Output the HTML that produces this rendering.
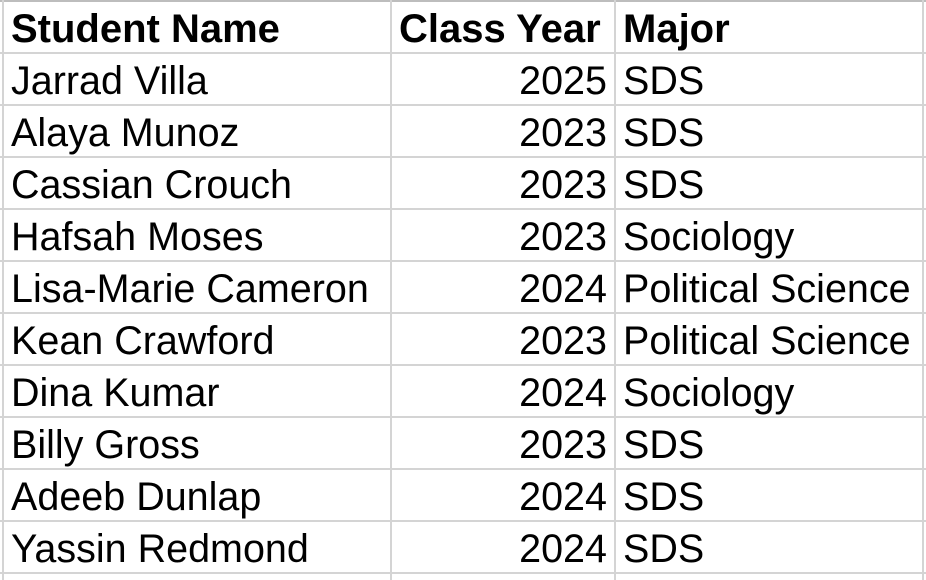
<!DOCTYPE html>
<html><head><meta charset="utf-8"><style>
html,body{margin:0;padding:0;background:#fff;width:926px;height:580px;overflow:hidden;font-family:"Liberation Sans",Arial,sans-serif;}
#grid{position:absolute;left:0;top:0;width:926px;height:580px;}
.h{position:absolute;left:0;width:926px;height:2px;background:#d4d4d4;}
.v{position:absolute;top:0;height:580px;width:2px;background:#d4d4d4;}
.c{position:absolute;height:52px;line-height:52px;font-size:39.5px;color:#000;white-space:nowrap;padding-top:2px;box-sizing:border-box;}
.b{font-weight:bold;font-size:40px;}
.n{left:11px;}
.y{left:392px;width:215px;text-align:right;}
.yh{left:399px;}
.m{left:623px;}
</style></head><body>
<div id="grid"></div>
<script>
const names=["Jarrad Villa","Alaya Munoz","Cassian Crouch","Hafsah Moses","Lisa-Marie Cameron","Kean Crawford","Dina Kumar","Billy Gross","Adeeb Dunlap","Yassin Redmond"];
const years=["2025","2023","2023","2023","2024","2023","2024","2023","2024","2024"];
const majors=["SDS","SDS","SDS","Sociology","Political Science","Political Science","Sociology","SDS","SDS","SDS"];
const g=document.getElementById('grid');
for(let k=0;k<=11;k++){const l=document.createElement('div');l.className='h';l.style.top=(k*52)+'px';if(k===0)l.style.background='#bdbdbd';


g.appendChild(l);}
[2,390,614,922].forEach(x=>{const l=document.createElement('div');l.className='v';l.style.left=x+'px';


g.appendChild(l);});
function cell(cls,txt,row,name){const d=document.createElement('div');d.className='c '+cls;d.textContent=txt;d.style.top=(row*52+1)+'px';


g.appendChild(d);}
cell('n b','Student Name',0,'header-student-name');
cell('yh b','Class Year',0,'header-class-year');
cell('m b','Major',0,'header-major');
for(let i=0;i<names.length;i++){
cell('n',names[i],i+1,'student-name-cell');
cell('y',years[i],i+1,'class-year-cell');
cell('m',majors[i],i+1,'major-cell');
}
</script>
</body></html>
